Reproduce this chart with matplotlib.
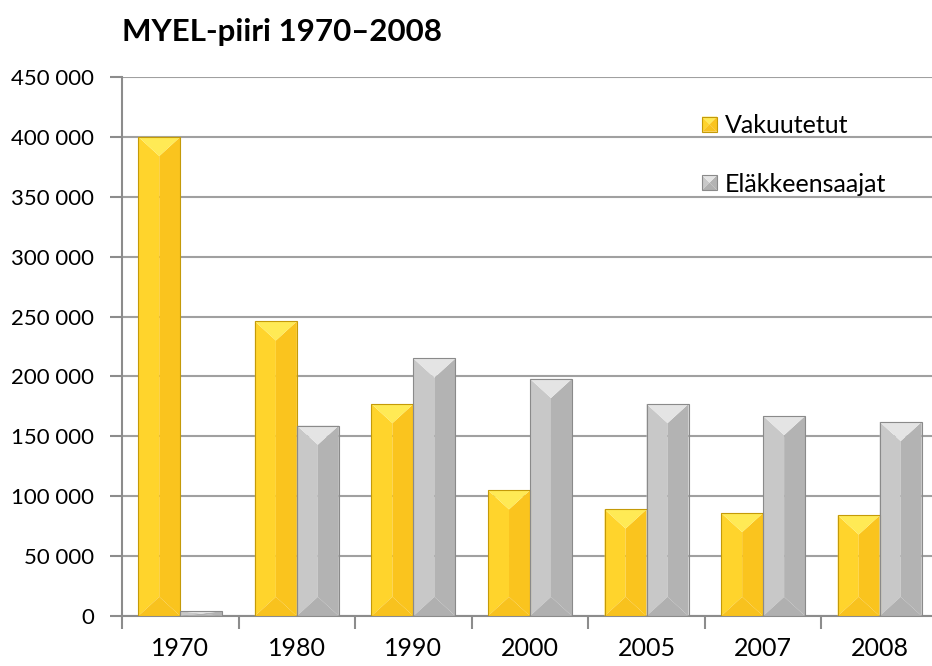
#!/usr/bin/env python3
# -*- coding: utf-8 -*-

import matplotlib
matplotlib.use("Agg")
import matplotlib.pyplot as plt
from matplotlib.patches import Polygon, Patch
from matplotlib.legend_handler import HandlerBase
from matplotlib.ticker import FuncFormatter, FixedLocator

# ---------------------------------------------------------------------
# DADES
# ---------------------------------------------------------------------

anys = ["1970", "1980", "1990", "2000", "2005", "2007", "2008"]
vakuutetut = [400000, 246000, 177000, 105000, 89000, 86000, 84000]
elakkeensaajat = [4000, 159000, 215000, 198000, 177000, 167000, 162000]
noms = ["Vakuutetut", "Eläkkeensaajat"]
titol = "MYEL-piiri 1970–2008"

# colors: esquerra, dreta, dalt, baix, vora
groc = dict(left="#FFD42C", right="#FAC41E", top="#FFEA55", bottom="#F8C21E", edge="#C49A08")
gris = dict(left="#C8C8C8", right="#B3B3B3", top="#E4E4E4", bottom="#B0B0B0", edge="#8A8A8A")

plt.rcParams["font.family"] = ["Lato", "DejaVu Sans"]


# ---------------------------------------------------------------------
# BARRA AMB BISELL
# ---------------------------------------------------------------------

def bevel_polys(x0, y0, w, h, d):
    # d = profunditat del bisell en unitats verticals
    d = min(d, h / 2)
    x1, y1 = x0 + w, y0 + h
    xc = x0 + w / 2
    return {
        "left": [(x0, y0), (xc, y0 + d), (xc, y1 - d), (x0, y1)],
        "right": [(x1, y0), (xc, y0 + d), (xc, y1 - d), (x1, y1)],
        "top": [(x0, y1), (x1, y1), (xc, y1 - d)],
        "bottom": [(x0, y0), (x1, y0), (xc, y0 + d)],
    }


def draw_bar(ax, x0, w, h, pal, d=16000):
    polys = bevel_polys(x0, 0, w, h, d)
    for part in ("left", "right", "bottom", "top"):
        ax.add_patch(Polygon(polys[part], closed=True, facecolor=pal[part],
                             edgecolor="none", zorder=3))
    ax.add_patch(Polygon([(x0, 0), (x0 + w, 0), (x0 + w, h), (x0, h)], closed=True,
                         facecolor="none", edgecolor=pal["edge"], linewidth=0.8, zorder=4))


class BevelHandler(HandlerBase):
    def __init__(self, pal):
        super().__init__()
        self.pal = pal

    def create_artists(self, legend, orig_handle, xdescent, ydescent,
                       width, height, fontsize, trans):
        s = min(width, height)
        x0 = -xdescent + (width - s) / 2
        y0 = -ydescent + (height - s) / 2
        polys = bevel_polys(x0, y0, s, s, s / 2)
        arts = []
        for part in ("left", "right", "bottom", "top"):
            arts.append(Polygon(polys[part], closed=True, facecolor=self.pal[part],
                                edgecolor="none", transform=trans))
        arts.append(Polygon([(x0, y0), (x0 + s, y0), (x0 + s, y0 + s), (x0, y0 + s)],
                            closed=True, facecolor="none", edgecolor=self.pal["edge"],
                            linewidth=0.8, transform=trans))
        return arts


# ---------------------------------------------------------------------
# GRÀFIC
# ---------------------------------------------------------------------

fig = plt.figure(figsize=(9.32, 6.66), dpi=100)
ax = fig.add_axes([122 / 932, 1 - 616 / 666, 816 / 932, 539 / 666])

amplada = 0.36
for i in range(len(anys)):
    draw_bar(ax, i - amplada, amplada, vakuutetut[i], groc)
    draw_bar(ax, i, amplada, elakkeensaajat[i], gris)

ax.set_xlim(-0.5, len(anys) - 0.5)
ax.set_ylim(0, 450000)

# Eix Y
ax.set_yticks(range(0, 450001, 50000))
ax.yaxis.set_major_formatter(FuncFormatter(lambda v, p: f"{v:,.0f}".replace(",", " ")))
ax.grid(True, axis="y", color="#A0A0A0", linewidth=1.5, zorder=0)
ax.set_axisbelow(True)

# Eix X: marques als límits, etiquetes al centre
ax.xaxis.set_major_locator(FixedLocator([i - 0.5 for i in range(len(anys) + 1)]))
ax.xaxis.set_minor_locator(FixedLocator(range(len(anys))))
ax.set_xticklabels([])
ax.set_xticklabels(anys, minor=True, fontsize=18)
ax.tick_params(axis="x", which="major", length=9, width=1.5, color="#8C8C8C")
ax.tick_params(axis="x", which="minor", length=0, pad=15)
ax.tick_params(axis="y", length=9, width=1.5, color="#8C8C8C", labelsize=16, pad=11)

for s in ("top", "right"):
    ax.spines[s].set_visible(False)
for s in ("left", "bottom"):
    ax.spines[s].set_color("#8C8C8C")
    ax.spines[s].set_linewidth(1.5)

fig.text(122 / 932, 1 - 32 / 666, titol, fontsize=22.5, fontweight="bold",
         ha="left", va="center")

h1 = Patch(label=noms[0])
h2 = Patch(label=noms[1])
ax.legend(handles=[h1, h2], handler_map={h1: BevelHandler(groc), h2: BevelHandler(gris)},
          loc="upper left", bbox_to_anchor=(702 / 932, 1 - 114 / 666),
          bbox_transform=fig.transFigure, frameon=False, fontsize=18,
          handlelength=0.6, handleheight=0.6, handletextpad=0.3,
          labelspacing=1.42, borderaxespad=0, borderpad=0)

fig.savefig("out.png", dpi=100)
